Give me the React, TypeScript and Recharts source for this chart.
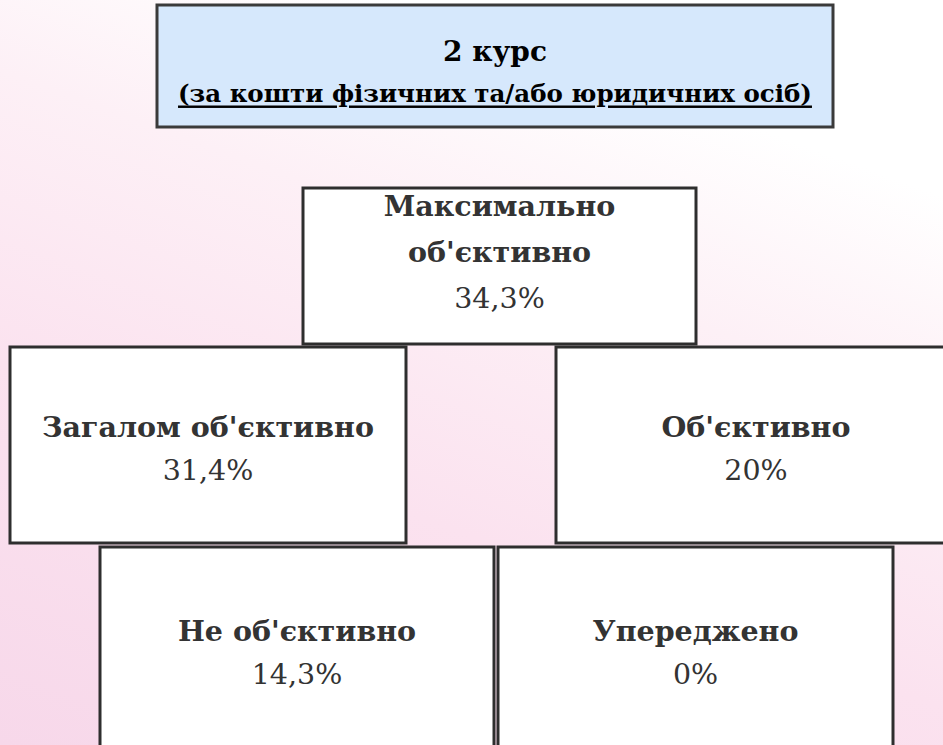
import React from 'react';
import { ScatterChart, Scatter, XAxis, YAxis } from 'recharts';

const W = 943;
const H = 745;

// header
const titleText = '2 курс';
const subtitleText = '(за кошти фізичних та/або юридичних осіб)';

// answer categories and shares
const labels = ['Максимально об\'єктивно', 'Загалом об\'єктивно', 'Об\'єктивно', 'Не об\'єктивно', 'Упереджено'];
const shares = [34.3, 31.4, 20, 14.3, 0];
// how labels wrap inside the boxes
const labelLines = [['Максимально', 'об\'єктивно'], ['Загалом об\'єктивно'], ['Об\'єктивно'], ['Не об\'єктивно'], ['Упереджено']];

// box layout (pixels, same as axis units)
const boxX = [303, 10, 556, 100, 498];
const boxY = [188, 347, 347, 547, 547];
const boxW = [393, 396, 400, 394, 395];
const boxH = [156, 196, 196, 210, 210];
// vertical offset of the first text line inside each box
const textTop = [18, 80, 80, 84, 84];

const headerBox = { x: 157, y: 5, w: 676, h: 122 };

const fmt = (v: number) => String(v).replace('.', ',') + '%';

const boxes = labels.map((name, i) => ({
    name,
    value: shares[i],
    lines: labelLines[i],
    x: boxX[i],
    y: boxY[i],
    w: boxW[i],
    h: boxH[i],
    t: textTop[i],
}));

const header = [{ x: headerBox.x, y: headerBox.y, w: headerBox.w, h: headerBox.h }];

const FONT = 'DejaVu Serif';

const BoxShape = (props: any) => {
    const { cx, cy, payload } = props;
    const midX = cx + payload.w / 2;
    const lh = payload.lines.length > 1 ? 46 : 43;
    const top = cy + payload.t;
    return (
        <g>
            <rect x={cx} y={cy} width={payload.w} height={payload.h} fill="#ffffff" stroke="#2e2e2e" strokeWidth={3} />
            {payload.lines.map((t: string, i: number) => (
                <text key={i} x={midX} y={top + i * lh} textAnchor="middle" dominantBaseline="central"
                    fontFamily={FONT} fontWeight="bold" fontSize={28.5} fill="#333333">{t}</text>
            ))}
            <text x={midX} y={top + payload.lines.length * lh} textAnchor="middle" dominantBaseline="central"
                fontFamily={FONT} fontSize={28.5} fill="#333333">{fmt(payload.value)}</text>
        </g>
    );
};

const HeaderShape = (props: any) => {
    const { cx, cy, payload } = props;
    const midX = cx + payload.w / 2;
    return (
        <g>
            <rect x={cx} y={cy} width={payload.w} height={payload.h} fill="#d6e8fc" stroke="#3a3a3a" strokeWidth={3} />
            <text x={midX} y={cy + 46} textAnchor="middle" dominantBaseline="central"
                fontFamily={FONT} fontWeight="bold" fontSize={28} fill="#000">{titleText}</text>
            <text x={midX} y={cy + 88} textAnchor="middle" dominantBaseline="central"
                fontFamily={FONT} fontWeight="bold" fontSize={24.5} textDecoration="underline" fill="#000">{subtitleText}</text>
        </g>
    );
};

export default function App() {
    return (
        <div style={{
            position: 'fixed', left: 0, top: 0, width: W, height: H,
            background: 'linear-gradient(200deg, #ffffff 0%, #ffffff 18%, #fdf0f6 38%, #fbe2ef 65%, #f7d8ea 100%)',
        }}>
            <ScatterChart width={W} height={H} margin={{ top: 0, right: 0, bottom: 0, left: 0 }}>
                <XAxis type="number" dataKey="x" domain={[0, W]} hide />
                <YAxis type="number" dataKey="y" domain={[0, H]} reversed hide />
                <Scatter data={header} shape={<HeaderShape />} isAnimationActive={false} />
                <Scatter data={boxes} shape={<BoxShape />} isAnimationActive={false} />
            </ScatterChart>
        </div>
    );
}
